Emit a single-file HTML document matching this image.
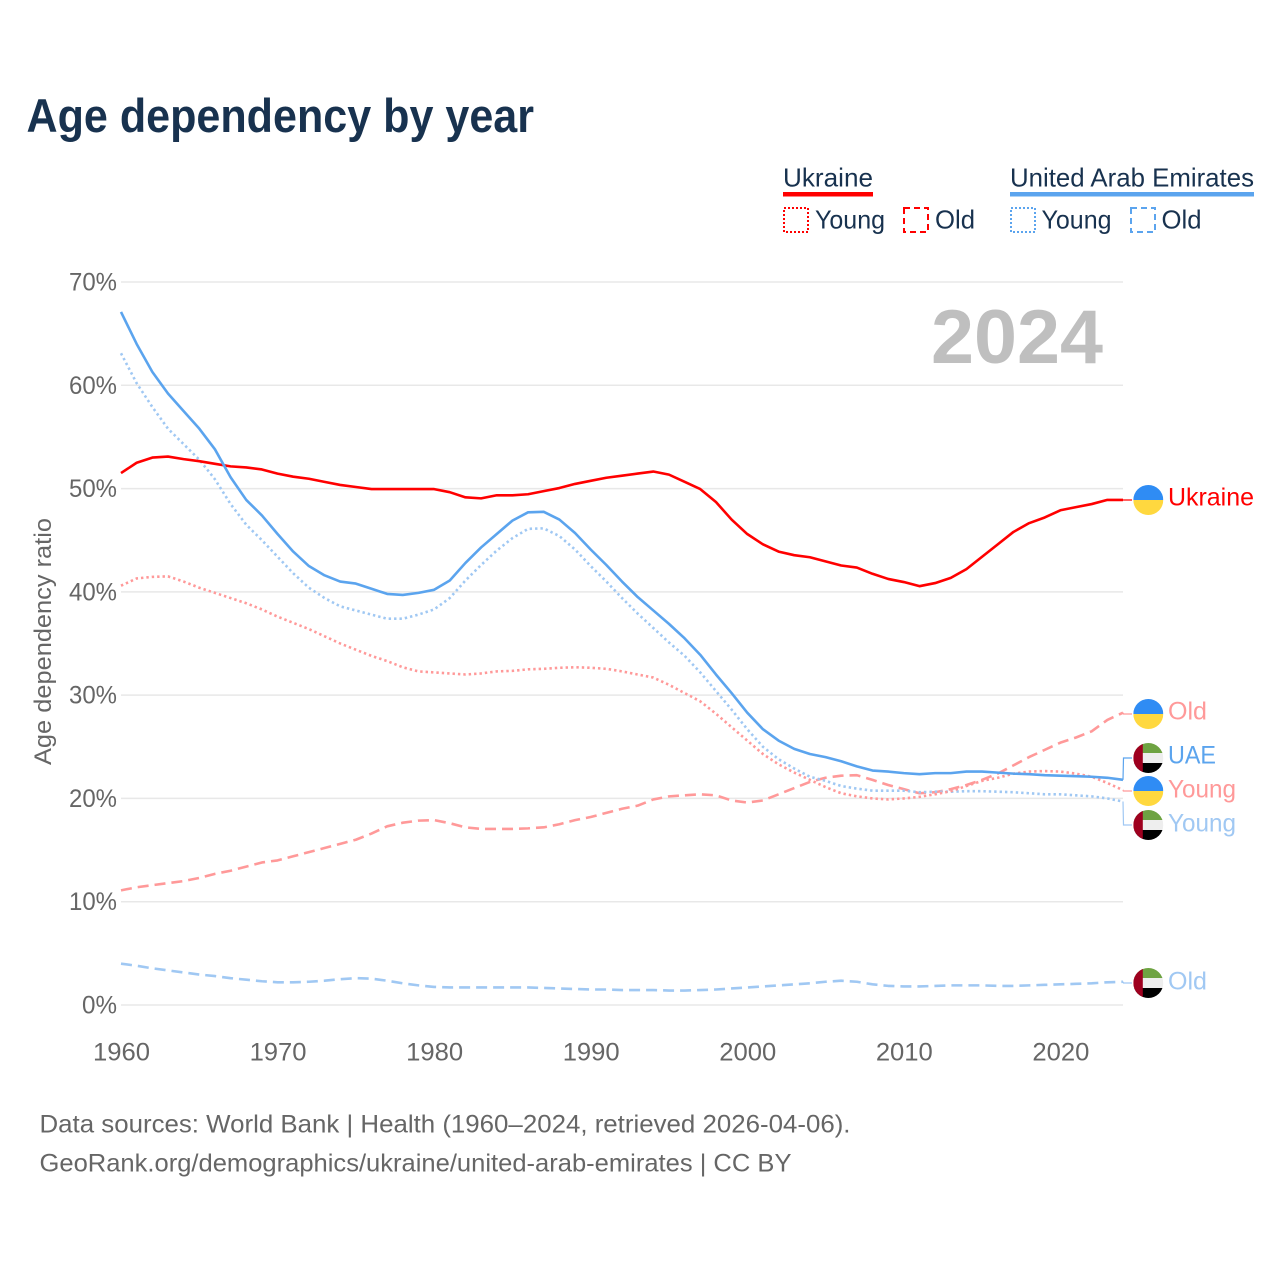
<!DOCTYPE html>
<html lang="en">
<head>
<meta charset="utf-8">
<title>Age dependency by year</title>
<style>
html,body{margin:0;padding:0;background:#fff}
svg{display:block}
text{font-family:"Liberation Sans",sans-serif}
</style>
</head>
<body>
<svg id="chart" xmlns="http://www.w3.org/2000/svg" width="1280" height="1280" viewBox="0 0 1280 1280">
<defs>
<clipPath id="flag-clip"><circle cx="0" cy="0" r="15"/></clipPath>
<g id="flag-ua">
<g clip-path="url(#flag-clip)"><rect x="-15" y="-15" width="30" height="15" fill="#2f8cf4"/><rect x="-15" y="0" width="30" height="15" fill="#ffd83f"/></g>
</g>
<g id="flag-ae">
<g clip-path="url(#flag-clip)"><rect x="-15" y="-15" width="30" height="10" fill="#6ea342"/><rect x="-15" y="-5" width="30" height="10" fill="#eeeeee"/><rect x="-15" y="5" width="30" height="10" fill="#000"/><rect x="-15" y="-15" width="9.5" height="30" fill="#9e001f"/></g>
</g>
</defs>

<text x="26.5" y="132" font-size="47" font-weight="700" fill="#18324f" textLength="507.5" lengthAdjust="spacingAndGlyphs">Age dependency by year</text>

<g>
<text x="783" y="186.5" font-size="26" fill="#18324f" textLength="90" lengthAdjust="spacingAndGlyphs">Ukraine</text>
<rect x="783" y="192" width="90" height="4.5" fill="#ff0000"/>
<rect x="784" y="208" width="24" height="24" fill="none" stroke="#ff0000" stroke-width="2" stroke-dasharray="2 2"/>
<text x="815" y="228.5" font-size="26" fill="#18324f" textLength="70" lengthAdjust="spacingAndGlyphs">Young</text>
<rect x="904" y="208" width="24" height="24" fill="none" stroke="#ff0000" stroke-width="2" stroke-dasharray="6 4"/>
<text x="935" y="228.5" font-size="26" fill="#18324f" textLength="40" lengthAdjust="spacingAndGlyphs">Old</text>
<text x="1010" y="186.5" font-size="26" fill="#18324f" textLength="244" lengthAdjust="spacingAndGlyphs">United Arab Emirates</text>
<rect x="1010" y="192" width="244" height="4.5" fill="#5ba4ee"/>
<rect x="1011" y="208" width="24" height="24" fill="none" stroke="#5ba4ee" stroke-width="2" stroke-dasharray="2 2"/>
<text x="1041.5" y="228.5" font-size="26" fill="#18324f" textLength="70" lengthAdjust="spacingAndGlyphs">Young</text>
<rect x="1131" y="208" width="24" height="24" fill="none" stroke="#5ba4ee" stroke-width="2" stroke-dasharray="6 4"/>
<text x="1161.5" y="228.5" font-size="26" fill="#18324f" textLength="40" lengthAdjust="spacingAndGlyphs">Old</text>
</g>

<g id="grid"></g>
<g id="yticks"></g>
<g id="xticks"></g>

<text x="931" y="363" font-size="76" font-weight="700" fill="#bfbfbf" textLength="172" lengthAdjust="spacingAndGlyphs">2024</text>

<text transform="translate(51,765) rotate(-90)" font-size="24" fill="#666666" textLength="247" lengthAdjust="spacingAndGlyphs">Age dependency ratio</text>

<g id="connectors"></g>
<g id="series"></g>

<g>
<use href="#flag-ua" x="1148.3" y="500"/>
<text x="1168" y="505.5" font-size="25" fill="#ff0000" textLength="86" lengthAdjust="spacingAndGlyphs">Ukraine</text>
<use href="#flag-ua" x="1148.3" y="714"/>
<text x="1168" y="719.5" font-size="25" fill="#ff9999" textLength="39" lengthAdjust="spacingAndGlyphs">Old</text>
<use href="#flag-ae" x="1148.3" y="758"/>
<text x="1168" y="763.5" font-size="25" fill="#5ba4ee" textLength="48" lengthAdjust="spacingAndGlyphs">UAE</text>
<use href="#flag-ua" x="1148.3" y="791"/>
<text x="1168" y="797.5" font-size="25" fill="#ff9999" textLength="68" lengthAdjust="spacingAndGlyphs">Young</text>
<use href="#flag-ae" x="1148.3" y="825"/>
<text x="1168" y="831.5" font-size="25" fill="#a0c8f3" textLength="68" lengthAdjust="spacingAndGlyphs">Young</text>
<use href="#flag-ae" x="1148.3" y="983"/>
<text x="1168" y="989.5" font-size="25" fill="#a0c8f3" textLength="39" lengthAdjust="spacingAndGlyphs">Old</text>
</g>

<text x="39.5" y="1132.5" font-size="25" fill="#666666" textLength="811" lengthAdjust="spacingAndGlyphs">Data sources: World Bank | Health (1960–2024, retrieved 2026-04-06).</text>
<a><text x="39.5" y="1171.5" font-size="25" fill="#666666" textLength="752" lengthAdjust="spacingAndGlyphs">GeoRank.org/demographics/ukraine/united-arab-emirates | CC BY</text></a>
</svg>

<script>
var startYear = 1960;
var endYear = 2024;
var xTickYears = [1960, 1970, 1980, 1990, 2000, 2010, 2020];
var yTickValues = [0, 10, 20, 30, 40, 50, 60, 70];

var ukraineTotal = [51.5,52.5,53.0,53.1,52.85,52.65,52.4,52.15,52.05,51.85,51.45,51.15,50.95,50.65,50.35,50.15,49.95,49.95,49.95,49.95,49.95,49.65,49.15,49.05,49.35,49.35,49.45,49.75,50.05,50.45,50.75,51.05,51.25,51.45,51.65,51.35,50.65,49.95,48.7,47.0,45.6,44.6,43.9,43.55,43.35,42.95,42.55,42.35,41.75,41.25,40.95,40.55,40.85,41.35,42.2,43.4,44.6,45.8,46.65,47.2,47.9,48.2,48.5,48.9,48.9];
var uaeTotal = [67.1,64.0,61.3,59.2,57.5,55.8,53.8,51.1,48.9,47.4,45.6,43.9,42.5,41.6,41.0,40.8,40.3,39.8,39.7,39.9,40.2,41.1,42.8,44.3,45.6,46.9,47.7,47.75,47.0,45.7,44.1,42.6,41.0,39.5,38.2,36.9,35.5,33.9,32.0,30.2,28.3,26.7,25.6,24.8,24.3,24.0,23.6,23.1,22.7,22.6,22.45,22.35,22.45,22.45,22.6,22.6,22.5,22.4,22.35,22.25,22.2,22.15,22.1,22.0,21.8];
var uaeYoung = [63.1,60.2,57.9,55.8,54.3,52.8,50.9,48.5,46.5,45.0,43.4,41.8,40.4,39.4,38.6,38.2,37.8,37.4,37.4,37.8,38.3,39.4,41.1,42.6,44.0,45.2,46.1,46.15,45.4,44.1,42.5,41.0,39.4,37.9,36.5,35.1,33.8,32.2,30.4,28.6,26.7,25.0,23.8,22.9,22.1,21.7,21.2,20.95,20.75,20.75,20.75,20.6,20.65,20.65,20.7,20.7,20.65,20.6,20.5,20.4,20.4,20.3,20.2,20.0,19.7];
var ukraineYoung = [40.6,41.3,41.45,41.5,41.0,40.4,39.9,39.4,38.9,38.3,37.6,37.0,36.4,35.7,35.0,34.4,33.8,33.3,32.7,32.3,32.2,32.1,32.0,32.1,32.3,32.35,32.5,32.55,32.65,32.7,32.65,32.55,32.3,32.0,31.7,31.0,30.2,29.4,28.2,26.9,25.6,24.3,23.3,22.5,21.8,21.1,20.5,20.2,20.0,19.9,20.0,20.15,20.4,20.7,21.2,21.7,22.0,22.4,22.6,22.65,22.6,22.4,22.1,21.5,20.8];
var ukraineOld = [11.1,11.4,11.6,11.8,12.0,12.3,12.7,13.0,13.4,13.8,14.0,14.4,14.8,15.2,15.6,16.0,16.6,17.3,17.65,17.85,17.9,17.6,17.2,17.05,17.05,17.05,17.1,17.2,17.5,17.9,18.2,18.6,19.0,19.3,19.9,20.2,20.3,20.4,20.3,19.8,19.6,19.8,20.4,21.0,21.6,22.0,22.2,22.25,21.8,21.3,20.9,20.5,20.6,20.9,21.3,21.8,22.4,23.2,24.0,24.7,25.4,25.9,26.5,27.6,28.3];
var uaeOld = [4.0,3.8,3.55,3.35,3.15,2.95,2.8,2.6,2.45,2.3,2.2,2.2,2.25,2.35,2.5,2.6,2.55,2.35,2.1,1.9,1.75,1.7,1.7,1.7,1.7,1.7,1.7,1.65,1.6,1.55,1.5,1.5,1.45,1.45,1.45,1.4,1.4,1.45,1.5,1.6,1.7,1.8,1.9,2.0,2.1,2.25,2.35,2.25,2.0,1.85,1.8,1.8,1.85,1.9,1.9,1.9,1.85,1.85,1.9,1.95,2.0,2.05,2.1,2.2,2.25];

var NS = 'http://www.w3.org/2000/svg';
function xScale(year) { return 121 + (year - startYear) * (1123 - 121) / (endYear - startYear); }
function yScale(v) { return 1005 - v * (1005 - 282) / 70; }
function make(tag, attrs, parent) {
  var el = document.createElementNS(NS, tag);
  for (var k in attrs) { el.setAttribute(k, attrs[k]); }
  parent.appendChild(el);
  return el;
}
function linePath(values) {
  var d = '';
  for (var i = 0; i < values.length; i++) {
    d += (i ? 'L' : 'M') + xScale(startYear + i).toFixed(2) + ' ' + yScale(values[i]).toFixed(2);
  }
  return d;
}

var gridG = document.getElementById('grid');
var yG = document.getElementById('yticks');
var xG = document.getElementById('xticks');
yTickValues.forEach(function (v) {
  var ln = make('line', {x1: 121, x2: 1123, y1: yScale(v), y2: yScale(v), stroke: '#e8e8e8', 'stroke-width': 1.5}, gridG);
  
  
  var t = make('text', {x: 117, y: yScale(v) + 8.5, 'font-size': 25, fill: '#666666', 'text-anchor': 'end', textLength: v === 0 ? 35 : 48, lengthAdjust: 'spacingAndGlyphs'}, yG);
  
  
  t.textContent = v + '%';
});
xTickYears.forEach(function (yr) {
  var t = make('text', {x: xScale(yr) + 0.5, y: 1060.5, 'font-size': 25, fill: '#666666', 'text-anchor': 'middle', textLength: 57, lengthAdjust: 'spacingAndGlyphs'}, xG);
  
  
  t.textContent = yr;
});

var connG = document.getElementById('connectors');
function connector(values, labelY, color, name) {
  var yEnd = yScale(values[values.length - 1]);
  var c = make('polyline', {points: '1123,' + yEnd.toFixed(2) + ' 1123.5,' + labelY + ' 1132,' + labelY, fill: 'none', stroke: color, 'stroke-width': 1.2}, connG);
  
  
}
connector(ukraineTotal, 500, '#ff0000', 'connector-ukraine-total');
connector(ukraineOld, 714, '#ff9999', 'connector-ukraine-old');
connector(uaeTotal, 758, '#5ba4ee', 'connector-uae-total');
connector(ukraineYoung, 791, '#ff9999', 'connector-ukraine-young');
connector(uaeYoung, 825, '#a0c8f3', 'connector-uae-young');
connector(uaeOld, 983, '#a0c8f3', 'connector-uae-old');

var seriesG = document.getElementById('series');
function drawSeries(values, color, width, dash, name) {
  var p = make('path', {d: linePath(values), fill: 'none', stroke: color, 'stroke-width': width, 'stroke-linejoin': 'round'}, seriesG);
  if (dash) { p.setAttribute('stroke-dasharray', dash); }
  
  
}
drawSeries(uaeOld, '#a0c8f3', 2.6, '11 6', 'line-uae-old');
drawSeries(ukraineOld, '#ff9999', 2.6, '11 6', 'line-ukraine-old');
drawSeries(uaeYoung, '#a0c8f3', 2.6, '2.4 3', 'line-uae-young');
drawSeries(ukraineYoung, '#ff9999', 2.6, '2.4 3', 'line-ukraine-young');
drawSeries(ukraineTotal, '#ff0000', 2.6, '', 'line-ukraine-total');
drawSeries(uaeTotal, '#5ba4ee', 2.6, '', 'line-uae-total');
</script>
</body>
</html>
